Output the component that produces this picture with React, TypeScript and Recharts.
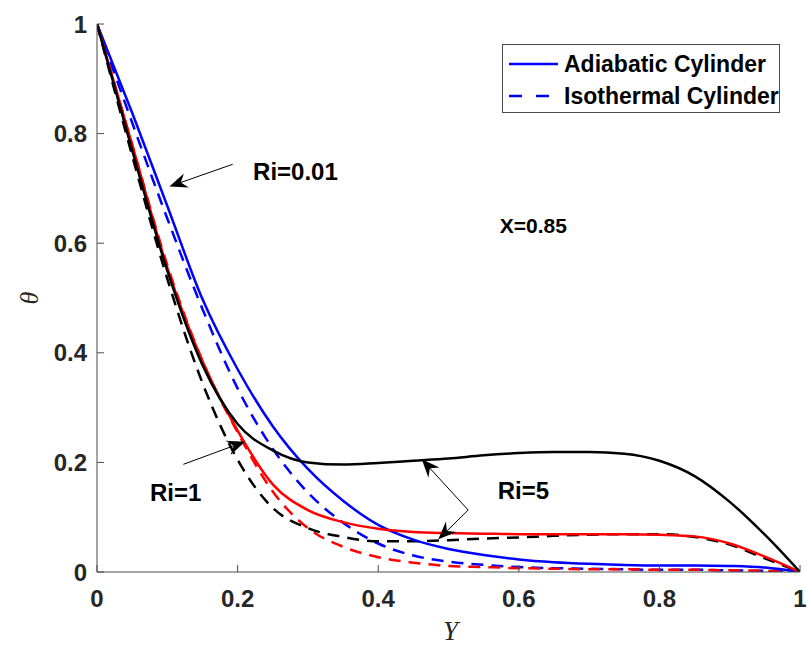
import React from 'react';
import { LineChart, Line, XAxis, YAxis, ReferenceLine, ReferenceDot, Legend } from 'recharts';

// Dimensionless position Y along the line
const positions = [0, 0.05, 0.1, 0.15, 0.2, 0.25, 0.3, 0.35, 0.4, 0.45, 0.5, 0.55, 0.6, 0.65, 0.7, 0.75, 0.8, 0.85, 0.9, 0.95, 1];

// Adiabatic cylinder (solid)
const adiabaticRi001 = [1, 0.838, 0.668, 0.498, 0.37, 0.266, 0.188, 0.13, 0.086, 0.059, 0.042, 0.031, 0.023, 0.018, 0.015, 0.013, 0.012, 0.012, 0.011, 0.008, 0];
const adiabaticRi1 = [1, 0.78, 0.555, 0.385, 0.258, 0.16, 0.113, 0.091, 0.079, 0.073, 0.071, 0.07, 0.069, 0.069, 0.069, 0.069, 0.068, 0.065, 0.052, 0.028, 0];
const adiabaticRi5 = [1, 0.77, 0.55, 0.378, 0.27, 0.222, 0.2, 0.196, 0.199, 0.203, 0.207, 0.213, 0.217, 0.219, 0.219, 0.216, 0.203, 0.175, 0.128, 0.068, 0];

// Isothermal cylinder (dashed)
const isothermalRi001 = [1, 0.82, 0.645, 0.48, 0.335, 0.225, 0.145, 0.09, 0.052, 0.03, 0.019, 0.013, 0.009, 0.007, 0.006, 0.005, 0.004, 0.004, 0.003, 0.002, 0];
const isothermalRi1 = [1, 0.78, 0.56, 0.385, 0.255, 0.147, 0.08, 0.046, 0.027, 0.017, 0.011, 0.009, 0.007, 0.006, 0.005, 0.005, 0.004, 0.004, 0.003, 0.002, 0];
const isothermalRi5 = [1, 0.76, 0.535, 0.345, 0.205, 0.117, 0.08, 0.064, 0.056, 0.056, 0.058, 0.061, 0.063, 0.066, 0.068, 0.069, 0.069, 0.064, 0.05, 0.025, 0];

const xTicks = [0, 0.2, 0.4, 0.6, 0.8, 1];
const yTicks = [0, 0.2, 0.4, 0.6, 0.8, 1];
const xTickLabels = ['0', '0.2', '0.4', '0.6', '0.8', '1'];
const yTickLabels = ['0', '0.2', '0.4', '0.6', '0.8', '1'];

const legendLabels = ['Adiabatic Cylinder', 'Isothermal Cylinder'];

// Annotation arrows (data coordinates): tail -> tip
const arrowTails = [
  { x: 0.193, y: 0.744 },
  { x: 0.1228, y: 0.1965 },
  { x: 0.528, y: 0.113 },
  { x: 0.528, y: 0.113 },
];
const arrowTips = [
  { x: 0.103, y: 0.7035 },
  { x: 0.2105, y: 0.2378 },
  { x: 0.462, y: 0.2056 },
  { x: 0.4855, y: 0.0596 },
];

const annotationTexts = ['Ri=0.01', 'Ri=1', 'Ri=5', 'X=0.85'];
const annotationX = [0.222, 0.0754, 0.57, 0.573];
const annotationY = [0.73, 0.145, 0.148, 0.633];
const annotationSizes = [24, 24, 24, 21];

const data = positions.map((p, i) => ({
  pos: p,
  a001: adiabaticRi001[i],
  a1: adiabaticRi1[i],
  a5: adiabaticRi5[i],
  i001: isothermalRi001[i],
  i1: isothermalRi1[i],
  i5: isothermalRi5[i],
}));

const FONT = '"Liberation Sans", Arial, Helvetica, sans-serif';
const FRAME = '#4a4a4a';
const TEXT = '#262626';
const DASH = '12 8';

const ArrowShape = (props: any) => {
  const x1 = Number(props.x1), y1 = Number(props.y1), x2 = Number(props.x2), y2 = Number(props.y2);
  const dx = x2 - x1, dy = y2 - y1;
  const len = Math.hypot(dx, dy) || 1;
  const ux = dx / len, uy = dy / len;
  const px = -uy, py = ux;
  const L = 18, W = 7.5, N = 12;
  const bx = x2 - ux * L, by = y2 - uy * L;
  const nx = x2 - ux * N, ny = y2 - uy * N;
  const d = `M${x2},${y2} L${bx + px * W},${by + py * W} L${nx},${ny} L${bx - px * W},${by - py * W} Z`;
  return (
    <g>
      <line x1={x1} y1={y1} x2={nx} y2={ny} stroke="#000" strokeWidth={1} />
      <path d={d} fill="#000" stroke="none" />
    </g>
  );
};

const makeTextShape = (text: string, size: number) => (props: any) => (
  <text
    x={props.cx}
    y={props.cy}
    dominantBaseline="central"
    textAnchor="start"
    fontFamily={FONT}
    fontWeight="bold"
    fontSize={size}
    fill="#000"
  >
    {text}
  </text>
);

const LegendBox = () => (
  <div
    style={{
      position: 'relative',
      width: 278,
      height: 69,
      boxSizing: 'border-box',
      border: `1px solid ${FRAME}`,
      background: '#fff',
      fontFamily: FONT,
      fontWeight: 'bold',
      fontSize: 23,
      color: '#000',
    }}
  >
    {legendLabels.map((label, i) => (
      <div key={label} style={{ position: 'absolute', left: 5, top: i === 0 ? 4 : 36, height: 30, display: 'flex', alignItems: 'center', whiteSpace: 'nowrap' }}>
        <svg width={50} height={10} style={{ display: 'block' }}>
          <line x1={1} y1={5} x2={50} y2={5} stroke="#0000ff" strokeWidth={2.5} strokeDasharray={i === 1 ? '13 14' : undefined} />
        </svg>
        <span style={{ marginLeft: 6, lineHeight: '30px' }}>{label}</span>
      </div>
    ))}
  </div>
);

const YLabel = (props: any) => {
  const vb = props.viewBox || { x: 0, y: 24, width: 97, height: 548 };
  const cx = vb.x + 29;
  const cy = vb.y + vb.height / 2;
  return (
    <text x={cx} y={cy} transform={`rotate(-90, ${cx}, ${cy})`} textAnchor="middle" dominantBaseline="central" fontFamily='"Liberation Serif", "Times New Roman", serif' fontStyle="italic" fontSize={26} fill={TEXT}>
      θ
    </text>
  );
};

const XLabel = (props: any) => {
  const vb = props.viewBox || { x: 97, y: 572, width: 703, height: 75 };
  const cx = vb.x + vb.width / 2 + 2;
  const cy = vb.y + 59;
  return (
    <text x={cx} y={cy} textAnchor="middle" dominantBaseline="central" fontFamily='"Liberation Serif", "Times New Roman", serif' fontStyle="italic" fontSize={27} fill={TEXT}>
      Y
    </text>
  );
};

const tickStyle = { fontFamily: FONT, fontWeight: 'bold' as const, fontSize: 24, fill: TEXT };

export default function App() {
  return (
    <div style={{ position: 'absolute', left: 0, top: 0, width: 807, height: 647, background: '#fff' }}>
      <LineChart width={807} height={647} data={data} margin={{ top: 24, right: 7, bottom: 0, left: 0 }}>
        <XAxis
          dataKey="pos"
          type="number"
          domain={[0, 1]}
          ticks={xTicks}
          allowDataOverflow
          height={75}
          tickSize={-7}
          tickMargin={25}
          tick={tickStyle}
          tickFormatter={(v: number) => xTickLabels[xTicks.indexOf(v)] ?? String(v)}
          axisLine={{ stroke: FRAME }}
          tickLine={{ stroke: FRAME }}
          label={<XLabel />}
        />
        <XAxis
          xAxisId="top"
          dataKey="pos"
          type="number"
          orientation="top"
          domain={[0, 1]}
          ticks={xTicks}
          allowDataOverflow
          height={0}
          tickSize={-7}
          tickFormatter={() => ''}
          axisLine={{ stroke: FRAME }}
          tickLine={{ stroke: FRAME }}
        />
        <YAxis
          type="number"
          domain={[0, 1]}
          ticks={yTicks}
          allowDataOverflow
          width={97}
          tickSize={-7}
          tickMargin={17}
          tick={tickStyle}
          tickFormatter={(v: number) => yTickLabels[yTicks.indexOf(v)] ?? String(v)}
          axisLine={{ stroke: FRAME }}
          tickLine={{ stroke: FRAME }}
          label={<YLabel />}
        />
        <YAxis
          yAxisId="right"
          orientation="right"
          type="number"
          domain={[0, 1]}
          ticks={yTicks}
          allowDataOverflow
          width={0}
          tickSize={-7}
          tickFormatter={() => ''}
          axisLine={{ stroke: FRAME }}
          tickLine={{ stroke: FRAME }}
        />

        <Line type="monotone" dataKey="i001" stroke="#0000ff" strokeWidth={2.5} strokeDasharray={DASH} dot={false} isAnimationActive={false} legendType="none" />
        <Line type="monotone" dataKey="i1" stroke="#ff0000" strokeWidth={2.5} strokeDasharray={DASH} dot={false} isAnimationActive={false} legendType="none" />
        <Line type="monotone" dataKey="i5" stroke="#000000" strokeWidth={2.5} strokeDasharray={DASH} dot={false} isAnimationActive={false} legendType="none" />
        <Line type="monotone" dataKey="a001" stroke="#0000ff" strokeWidth={2.5} dot={false} isAnimationActive={false} legendType="none" />
        <Line type="monotone" dataKey="a1" stroke="#ff0000" strokeWidth={2.5} dot={false} isAnimationActive={false} legendType="none" />
        <Line type="monotone" dataKey="a5" stroke="#000000" strokeWidth={2.5} dot={false} isAnimationActive={false} legendType="none" />

        {arrowTails.map((t, i) => (
          <ReferenceLine key={`arrow-${i}`} segment={[t, arrowTips[i]]} ifOverflow="visible" shape={ArrowShape} />
        ))}
        {annotationTexts.map((txt, i) => (
          <ReferenceDot key={`txt-${i}`} x={annotationX[i]} y={annotationY[i]} r={0} ifOverflow="visible" shape={makeTextShape(txt, annotationSizes[i])} />
        ))}

        <Legend
          layout="horizontal"
          verticalAlign="middle"
          align="center"
          wrapperStyle={{ left: 502, top: 44, width: 278, height: 69 }}
          content={() => <LegendBox />}
        />
      </LineChart>
    </div>
  );
}
